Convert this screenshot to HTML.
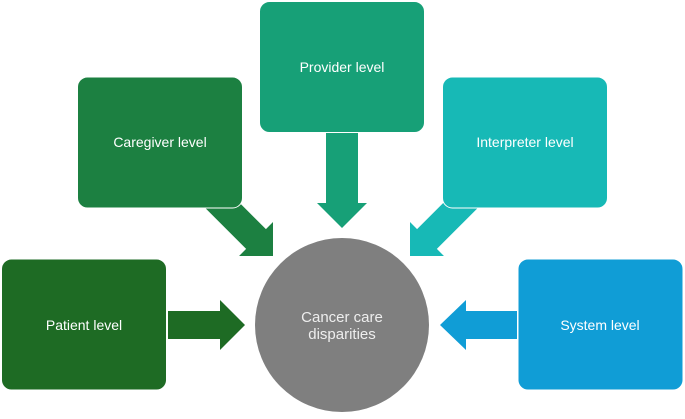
<!DOCTYPE html><html><head><style>
body{margin:0;background:#fff;width:685px;height:414px;overflow:hidden}
text{font-family:"Liberation Sans",sans-serif;fill:#fff;font-size:14px;text-anchor:middle}
</style></head><body>
<svg width="685" height="414" viewBox="0 0 685 414">
<g transform="translate(273,256) rotate(45)"><polygon points="-82,-14 -24,-14 -24,-24 0,0 -24,24 -24,14 -82,14" fill="#1c8041"/></g>
<g transform="translate(410,256) rotate(135)"><polygon points="-82,-14 -24,-14 -24,-24 0,0 -24,24 -24,14 -82,14" fill="#17b9b6"/></g>
<rect x="1.5" y="259" width="165" height="131" rx="10" fill="#1e6b24" stroke="#fff"/>
<rect x="77.5" y="77" width="165" height="131" rx="10" fill="#1c8041" stroke="#fff"/>
<rect x="259.5" y="1.5" width="165" height="131" rx="10" fill="#17a077" stroke="#fff"/>
<rect x="442.5" y="77" width="165" height="131" rx="10" fill="#17b9b6" stroke="#fff"/>
<rect x="518" y="259" width="165" height="131" rx="10" fill="#109dd6" stroke="#fff"/>
<circle cx="342" cy="325" r="87" fill="#7f7f7f"/>
<polygon points="168,311 220,311 220,300 245,325 220,350 220,339 168,339" fill="#1e6b24"/>
<polygon points="517,311 466,311 466,300 440,325 466,350 466,339 517,339" fill="#109dd6"/>
<polygon points="326,133 358,133 358,203 367,203 342,228 317,203 326,203" fill="#17a077"/>
<text x="84" y="330">Patient level</text>
<text x="160" y="147">Caregiver level</text>
<text x="342" y="72">Provider level</text>
<text x="525" y="147">Interpreter level</text>
<text x="600" y="330">System level</text>
<text x="342" y="322" style="font-size:15px;fill:#eee">Cancer care</text>
<text x="342" y="339" style="font-size:15px;fill:#eee">disparities</text>
</svg></body></html>
